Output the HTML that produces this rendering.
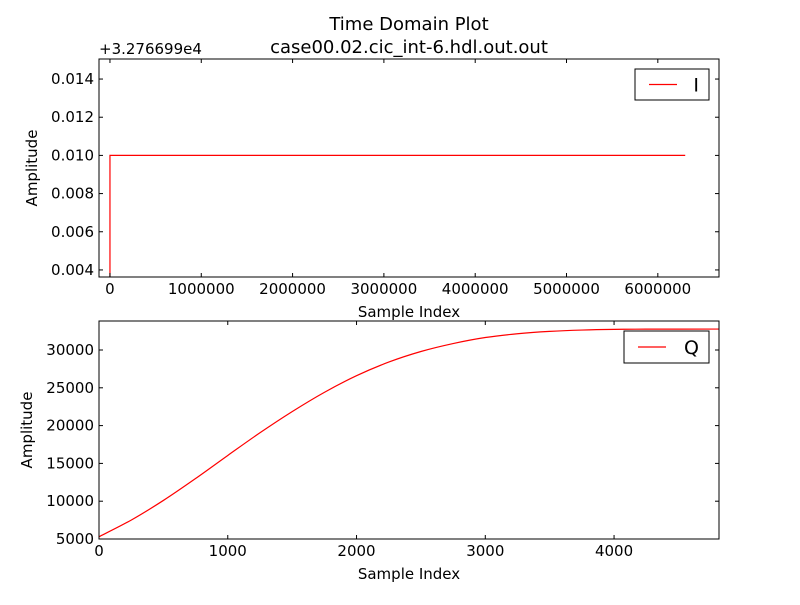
<!DOCTYPE html>
<html><head><meta charset="utf-8"><style>
html,body{margin:0;padding:0;background:#fff;}
svg text{font-family:"DejaVu Sans","Liberation Sans",sans-serif;fill:#000;}
</style></head><body>
<svg id="chart" width="800" height="600" viewBox="0 0 800 600" xmlns="http://www.w3.org/2000/svg">
<rect width="800" height="600" fill="#fff"/>
<text x="409" y="30" font-size="18" text-anchor="middle">Time Domain Plot</text>
<text x="409" y="53" font-size="18" text-anchor="middle">case00.02.cic_int-6.hdl.out.out</text>
<g id="top"></g>
<g id="bot"></g>
</svg>
<script>
// Top panel (I) data
const iX = [0, 0, 6300000];
const iY = [0.0036, 0.010, 0.010];
const iXTicks = [0,1000000,2000000,3000000,4000000,5000000,6000000];
const iYTicks = [0.004,0.006,0.008,0.010,0.012,0.014];
// Bottom panel (Q) data
const qX = [0,250,500,750,1000,1250,1500,1750,2000,2250,2500,2750,3000,3250,3500,3750,4000,4250,4815];
const qY = [5300,7500,10100,13000,16050,19050,21850,24400,26600,28400,29800,30850,31650,32150,32460,32640,32730,32760,32767];
const qXTicks = [0,1000,2000,3000,4000];
const qYTicks = [5000,10000,15000,20000,25000,30000];
const NS="http://www.w3.org/2000/svg";
function mk(p,tag,at){const e=document.createElementNS(NS,tag);for(const k in at)e.setAttribute(k,at[k]);p.appendChild(e);return e;}
function pathFor(pts,smooth){
  if(!smooth){return pts.map((p,i)=>(i?'L':'M')+p[0].toFixed(2)+','+p[1].toFixed(2)).join('');}
  let d='M'+pts[0][0].toFixed(2)+','+pts[0][1].toFixed(2);
  for(let i=0;i<pts.length-1;i++){
    const p0=pts[Math.max(0,i-1)],p1=pts[i],p2=pts[i+1],p3=pts[Math.min(pts.length-1,i+2)];
    const c1=[p1[0]+(p2[0]-p0[0])/6,p1[1]+(p2[1]-p0[1])/6];
    const c2=[p2[0]-(p3[0]-p1[0])/6,p2[1]-(p3[1]-p1[1])/6];
    d+='C'+c1[0].toFixed(2)+','+c1[1].toFixed(2)+' '+c2[0].toFixed(2)+','+c2[1].toFixed(2)+' '+p2[0].toFixed(2)+','+p2[1].toFixed(2);
  }
  return d;
}
function panel(g,box,xd,yd,xs,ys,xt,yt,fmtY,label,legBox,name,smooth){
  const X=v=>box.l+(v-xd[0])/(xd[1]-xd[0])*(box.r-box.l);
  const Y=v=>box.b-(v-yd[0])/(yd[1]-yd[0])*(box.b-box.t);
  const cp=mk(g,'clipPath',{id:'c'+name});
  mk(cp,'rect',{x:box.l,y:box.t,width:box.r-box.l,height:box.b-box.t});
  const pts=xs.map((v,i)=>[X(v),Y(ys[i])]);
  const ln=mk(g,'path',{d:pathFor(pts,smooth),fill:'none',stroke:'#f00','stroke-width':1.2,'clip-path':'url(#c'+name+')'});
  
  
  xt.forEach(v=>{const x=X(v);
    const t1=mk(g,'line',{x1:x,x2:x,y1:box.b,y2:box.b-4,stroke:'#000'});
    
    
    mk(g,'line',{x1:x,x2:x,y1:box.t,y2:box.t+4,stroke:'#000'});
    const tx=mk(g,'text',{x:x,y:box.b+17,'font-size':15,'text-anchor':'middle'});tx.textContent=String(v);
    
    
  });
  yt.forEach(v=>{const y=Y(v);
    const t1=mk(g,'line',{x1:box.l,x2:box.l+4,y1:y,y2:y,stroke:'#000'});
    
    
    mk(g,'line',{x1:box.r,x2:box.r-4,y1:y,y2:y,stroke:'#000'});
    const tx=mk(g,'text',{x:box.l-5,y:y+5,'font-size':15,'text-anchor':'end'});tx.textContent=fmtY(v);
    
    
  });
  const fr=mk(g,'rect',{x:box.l,y:box.t,width:box.r-box.l,height:box.b-box.t,fill:'none',stroke:'#000','stroke-width':1});
  
  
  const xl=mk(g,'text',{x:(box.l+box.r)/2,y:box.b+40,'font-size':15,'text-anchor':'middle'});xl.textContent='Sample Index';
  
  
  const cy=(box.t+box.b)/2;
  const yl=mk(g,'text',{x:0,y:0,'font-size':15,'text-anchor':'middle',transform:`translate(${legBox.yl},${cy}) rotate(-90)`});yl.textContent='Amplitude';
  
  
  const lg=mk(g,'g',{});
  
  
  mk(lg,'rect',{x:legBox.x,y:legBox.y,width:legBox.w,height:legBox.h,fill:'#fff',stroke:'#000'});
  mk(lg,'line',{x1:legBox.x+14,x2:legBox.x+42,y1:legBox.y+legBox.h/2,y2:legBox.y+legBox.h/2,stroke:'#f00','stroke-width':1.2});
  const lt=mk(lg,'text',{x:legBox.x+legBox.w-10,y:legBox.y+legBox.h/2+7,'font-size':19,'text-anchor':'end'});lt.textContent=label;
}
panel(document.getElementById('top'),{l:99,r:719,t:59,b:277},[-120000,6670000],[0.00363,0.01505],iX,iY,iXTicks,iYTicks,v=>v.toFixed(3),'I',{x:635,y:69,w:74,h:31,yl:37},'i',false);
panel(document.getElementById('bot'),{l:99,r:719,t:321,b:539},[0,4815],[5000,33836],qX,qY,qXTicks,qYTicks,v=>String(v),'Q',{x:624,y:331,w:85,h:32,yl:32},'q',true);
const off=document.createElementNS(NS,'text');
off.setAttribute('x',99);off.setAttribute('y',54);off.setAttribute('font-size',15);
off.textContent='+3.276699e4';


document.getElementById('top').appendChild(off);
</script>
</body></html>
